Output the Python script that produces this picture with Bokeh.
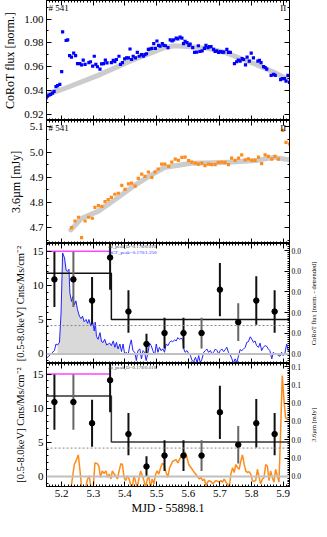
from bokeh.plotting import figure
from bokeh.models import (Range1d, LinearAxis, Label, Span, SingleIntervalTicker,
                          PrintfTickFormatter, CustomJSTickFormatter)
from bokeh.layouts import gridplot
from bokeh.embed import file_html
from bokeh.resources import INLINE

FONT = "Liberation Serif"

# ---------------- data ----------------
# Panel 1: CoRoT flux (normalised)
corot_t = [5.151, 5.155, 5.160, 5.165, 5.171, 5.176, 5.182, 5.187, 5.194, 5.200, 5.203, 5.214, 5.219,
           5.225, 5.231, 5.238, 5.244, 5.250, 5.257, 5.263, 5.268, 5.274, 5.286, 5.291, 5.298, 5.303,
           5.308, 5.313, 5.321, 5.326, 5.332, 5.338, 5.343, 5.357, 5.363, 5.368, 5.373, 5.381, 5.386,
           5.392, 5.399, 5.405, 5.411, 5.416, 5.421, 5.426, 5.433, 5.439, 5.445, 5.452, 5.458, 5.463,
           5.468, 5.474, 5.479, 5.485, 5.491, 5.496, 5.501, 5.506, 5.511, 5.518, 5.523, 5.528, 5.536,
           5.543, 5.549, 5.554, 5.562, 5.567, 5.574, 5.580, 5.585, 5.590, 5.596, 5.602, 5.606, 5.614,
           5.620, 5.627, 5.632, 5.637, 5.644, 5.651, 5.656, 5.662, 5.667, 5.672, 5.680, 5.685, 5.690,
           5.696, 5.701, 5.707, 5.712, 5.722, 5.727, 5.733, 5.746, 5.753, 5.758, 5.764, 5.770, 5.775,
           5.781, 5.786, 5.793, 5.799, 5.806, 5.820, 5.825, 5.830, 5.838, 5.843, 5.848, 5.862, 5.870,
           5.875, 5.892, 5.897, 5.904, 5.909, 5.915, 5.920]
corot_f = [0.9340, 0.9354, 0.9362, 0.9368, 0.9380, 0.9394, 0.9434, 0.9442, 0.9453, 0.9560, 0.9893,
           0.9820, 0.9826, 0.9693, 0.9680, 0.9714, 0.9693, 0.9626, 0.9626, 0.9616, 0.9656, 0.9620,
           0.9634, 0.9642, 0.9605, 0.9688, 0.9620, 0.9600, 0.9580, 0.9624, 0.9626, 0.9656, 0.9632,
           0.9634, 0.9653, 0.9642, 0.9661, 0.9688, 0.9620, 0.9634, 0.9666, 0.9674, 0.9674, 0.9749,
           0.9661, 0.9688, 0.9674, 0.9720, 0.9688, 0.9701, 0.9688, 0.9701, 0.9709, 0.9746, 0.9749,
           0.9754, 0.9794, 0.9754, 0.9816, 0.9780, 0.9773, 0.9794, 0.9780, 0.9776, 0.9760, 0.9826,
           0.9816, 0.9826, 0.9840, 0.9834, 0.9848, 0.9840, 0.9794, 0.9813, 0.9802, 0.9780, 0.9789,
           0.9760, 0.9720, 0.9722, 0.9776, 0.9728, 0.9733, 0.9754, 0.9780, 0.9760, 0.9768, 0.9768,
           0.9746, 0.9728, 0.9733, 0.9720, 0.9728, 0.9722, 0.9722, 0.9746, 0.9720, 0.9720, 0.9626,
           0.9642, 0.9656, 0.9648, 0.9669, 0.9661, 0.9616, 0.9680, 0.9648, 0.9714, 0.9674, 0.9648,
           0.9653, 0.9634, 0.9602, 0.9594, 0.9580, 0.9528, 0.9536, 0.9528, 0.9493, 0.9500, 0.9500,
           0.9480, 0.9528, 0.9469]
corot_trend_t = [5.151, 5.211, 5.315, 5.421, 5.525, 5.557, 5.609, 5.661, 5.714, 5.766, 5.818, 5.871, 5.924]
corot_trend_f = [0.9365, 0.9420, 0.9528, 0.9653, 0.9760, 0.9776, 0.9768, 0.9754, 0.9722, 0.9669, 0.9616,
                 0.9554, 0.9480]

# Panel 2: IRAC 3.6 micron flux [mJy]
irac_t = [5.231, 5.242, 5.253, 5.263, 5.274, 5.285, 5.297, 5.305, 5.316, 5.327, 5.337, 5.347, 5.357,
          5.368, 5.379, 5.390, 5.400, 5.411, 5.421, 5.432, 5.442, 5.453, 5.463, 5.474, 5.485, 5.495,
          5.505, 5.516, 5.526, 5.538, 5.548, 5.559, 5.569, 5.580, 5.590, 5.601, 5.611, 5.622, 5.632,
          5.643, 5.653, 5.664, 5.674, 5.685, 5.695, 5.706, 5.716, 5.727, 5.737, 5.748, 5.759, 5.769,
          5.780, 5.790, 5.801, 5.811, 5.822, 5.832, 5.843, 5.853, 5.864, 5.874, 5.885, 5.899, 5.909,
          5.920]
irac_f = [4.701, 4.727, 4.742, 4.661, 4.727, 4.742, 4.738, 4.781, 4.788, 4.785, 4.804, 4.812, 4.821,
          4.833, 4.837, 4.868, 4.852, 4.874, 4.877, 4.865, 4.896, 4.913, 4.904, 4.921, 4.900, 4.921,
          4.933, 4.952, 4.952, 4.943, 4.960, 4.972, 4.967, 4.979, 4.980, 4.966, 4.960, 4.956, 4.952,
          4.956, 4.946, 4.952, 4.950, 4.950, 4.959, 4.960, 4.959, 4.950, 4.976, 4.967, 4.976, 4.989,
          4.969, 4.973, 4.967, 4.967, 4.980, 4.954, 4.989, 4.983, 4.972, 4.983, 4.972, 5.086, 5.038,
          5.032]
irac_trend_t = [5.229, 5.263, 5.315, 5.368, 5.421, 5.474, 5.525, 5.609, 5.714, 5.818, 5.871, 5.920]
irac_trend_f = [4.692, 4.738, 4.765, 4.811, 4.860, 4.903, 4.939, 4.956, 4.959, 4.967, 4.979, 4.969]

# Panels 3/4: X-ray count rate [0.5-8.0 keV]
xray_t = [5.177, 5.237, 5.296, 5.353, 5.411, 5.468, 5.525, 5.585, 5.642, 5.700, 5.758, 5.815, 5.873]
xray_rate = [10.9, 10.9, 7.8, 14.1, 6.2, 1.45, 3.05, 3.05, 3.05, 9.4, 4.65, 7.8, 6.2]
xray_err = [4.05, 4.05, 3.45, 4.7, 3.1, 1.5, 2.25, 2.25, 2.25, 3.9, 2.75, 3.55, 3.1]
xray_err_color = ["#111111", "#666666", "#111111", "#111111", "#111111", "#111111", "#111111",
                  "#111111", "#666666", "#111111", "#666666", "#111111", "#111111"]
block_t = [5.152, 5.357, 5.357, 5.920]
block_rate = [11.8, 11.8, 5.05, 5.05]
peak_t = [5.152, 5.353]
peak_rate = [15.0, 15.0]
mean_rate = 4.15

# Panel 3: detrended CoRoT flux
cdet_t = [5.151, 5.158, 5.169, 5.177, 5.182, 5.187, 5.193, 5.198, 5.203, 5.209, 5.214, 5.218, 5.223,
          5.226, 5.231, 5.235, 5.240, 5.245, 5.250, 5.256, 5.261, 5.266, 5.271, 5.277, 5.282, 5.286,
          5.292, 5.298, 5.303, 5.306, 5.310, 5.315, 5.321, 5.326, 5.331, 5.336, 5.342, 5.347, 5.352,
          5.357, 5.363, 5.368, 5.373, 5.378, 5.384, 5.389, 5.394, 5.399, 5.404, 5.410, 5.415, 5.420,
          5.425, 5.431, 5.436, 5.441, 5.447, 5.452, 5.457, 5.462, 5.467, 5.473, 5.478, 5.483, 5.488,
          5.494, 5.499, 5.504, 5.509, 5.514, 5.520, 5.525, 5.530, 5.536, 5.541, 5.546, 5.551, 5.557,
          5.562, 5.567, 5.572, 5.577, 5.583, 5.586, 5.590, 5.596, 5.602, 5.607, 5.612, 5.617, 5.623,
          5.628, 5.633, 5.638, 5.643, 5.649, 5.654, 5.659, 5.664, 5.670, 5.675, 5.680, 5.686, 5.691,
          5.696, 5.701, 5.706, 5.712, 5.717, 5.722, 5.727, 5.733, 5.738, 5.743, 5.748, 5.754, 5.759,
          5.764, 5.769, 5.775, 5.780, 5.785, 5.790, 5.796, 5.801, 5.806, 5.811, 5.816, 5.822, 5.827,
          5.832, 5.837, 5.843, 5.848, 5.853, 5.858, 5.864, 5.869, 5.874, 5.879, 5.885, 5.890, 5.895,
          5.900, 5.905, 5.911, 5.916, 5.921]
cdet_f = [-0.0021, -0.0013, 0.0005, 0.0016, 0.0048, 0.0043, 0.0056, 0.0198, 0.0489, 0.0465, 0.0405,
          0.0400, 0.0410, 0.0294, 0.0254, 0.0278, 0.0238, 0.0257, 0.0214, 0.0183, 0.0171, 0.0183,
          0.0156, 0.0167, 0.0148, 0.0167, 0.0135, 0.0154, 0.0111, 0.0154, 0.0084, 0.0071, 0.0103,
          0.0059, 0.0056, 0.0071, 0.0043, 0.0048, 0.0052, 0.0040, 0.0063, 0.0032, 0.0056, 0.0024,
          0.0048, 0.0011, 0.0048, 0.0000, 0.0008, -0.0005, 0.0040, 0.0068, 0.0016, 0.0008, -0.0032,
          0.0016, 0.0024, -0.0024, 0.0016, 0.0008, -0.0032, 0.0008, 0.0052, 0.0040, 0.0016, -0.0005,
          0.0048, 0.0008, 0.0032, 0.0016, 0.0024, 0.0008, 0.0048, 0.0040, 0.0056, 0.0063, 0.0059,
          0.0068, 0.0063, 0.0079, 0.0071, 0.0075, 0.0071, 0.0024, 0.0008, 0.0016, 0.0000, -0.0008,
          -0.0032, -0.0037, -0.0016, -0.0043, -0.0008, -0.0043, -0.0027, 0.0008, 0.0016, 0.0024,
          0.0008, 0.0016, 0.0000, 0.0008, 0.0024, 0.0016, 0.0000, 0.0016, 0.0024, 0.0011, 0.0021,
          0.0032, 0.0008, -0.0005, -0.0024, -0.0044, -0.0024, -0.0040, -0.0008, 0.0021, 0.0016,
          0.0024, 0.0032, 0.0056, 0.0059, 0.0083, 0.0071, 0.0056, 0.0063, 0.0040, 0.0032, 0.0052,
          0.0016, 0.0032, 0.0040, 0.0037, 0.0024, 0.0016, -0.0024, 0.0008, 0.0000, 0.0000, -0.0008,
          -0.0011, 0.0008, -0.0008, 0.0000, 0.0048, 0.0016, 0.0024]

# Panel 4: detrended IRAC flux [mJy]
idet_t = [5.2296, 5.240, 5.245, 5.2525, 5.259, 5.263, 5.2755, 5.282, 5.287, 5.2925, 5.300, 5.305,
          5.312, 5.3176, 5.3227, 5.328, 5.334, 5.340, 5.345, 5.350, 5.3555, 5.360, 5.3657, 5.371,
          5.376, 5.3815, 5.387, 5.392, 5.397, 5.4025, 5.4075, 5.413, 5.418, 5.423, 5.4286, 5.434,
          5.439, 5.444, 5.4497, 5.4547, 5.460, 5.4654, 5.4705, 5.4758, 5.481, 5.486, 5.4915, 5.497,
          5.502, 5.507, 5.5126, 5.5176, 5.523, 5.530, 5.5355, 5.541, 5.5513, 5.5616, 5.567, 5.5774,
          5.5858, 5.591, 5.5962, 5.6016, 5.6088, 5.6195, 5.6277, 5.635, 5.640, 5.6456, 5.651, 5.656,
          5.6613, 5.6667, 5.6717, 5.677, 5.6824, 5.6874, 5.6928, 5.698, 5.7031, 5.7085, 5.7138,
          5.7189, 5.7242, 5.7296, 5.7346, 5.740, 5.7453, 5.7503, 5.7557, 5.761, 5.766, 5.7714,
          5.7768, 5.7818, 5.7871, 5.7925, 5.7975, 5.8028, 5.8082, 5.8132, 5.8186, 5.8239, 5.8289,
          5.8343, 5.8396, 5.8447, 5.850, 5.8553, 5.8604, 5.8657, 5.871, 5.8761, 5.8814, 5.8868,
          5.8918, 5.8972, 5.9025, 5.9075, 5.9129, 5.9214]
idet_f = [-0.0123, 0.0131, 0.0166, 0.0236, 0.0025, -0.0123, -0.0123, -0.0028, 0.0007, -0.0123,
          -0.0123, 0.0148, 0.0141, 0.0113, -0.0011, 0.0060, 0.0032, 0.0060, -0.0011, 0.0025, -0.0028,
          0.0060, 0.0025, 0.0007, -0.0028, 0.0060, 0.0138, 0.0130, -0.0011, -0.0046, 0.0007, -0.0028,
          -0.0088, -0.0123, 0.0007, -0.0063, -0.0123, -0.0028, 0.0060, 0.0007, -0.0046, -0.0123,
          -0.0028, -0.0011, -0.0123, -0.0028, -0.0081, 0.0025, 0.0060, 0.0025, 0.0095, 0.0141, 0.0130,
          0.0042, -0.0011, 0.0095, 0.0166, 0.0183, 0.0148, 0.0219, 0.0254, 0.0265, 0.0201, 0.0130,
          0.0095, 0.0042, 0.0007, -0.0028, -0.0011, -0.0046, -0.0028, -0.0099, -0.0063, -0.0046,
          -0.0056, -0.0081, -0.0063, -0.0046, -0.0053, -0.0063, -0.0046, -0.0063, -0.0028, -0.0063,
          -0.0081, -0.0123, 0.0025, 0.0095, 0.0042, 0.0130, 0.0095, 0.0078, 0.0166, 0.0236, 0.0130,
          0.0060, 0.0042, 0.0053, 0.0025, -0.0046, -0.0053, -0.0046, 0.0078, -0.0011, -0.0081,
          -0.0028, -0.0011, 0.0130, 0.0113, -0.0046, 0.0060, -0.0011, -0.0063, 0.0078, 0.0007,
          -0.0063, 0.0483, 0.1100, 0.0836, 0.0642, 0.0624, 0.0617]

# ---------------- styling helpers ----------------
X0, X1 = 5.152, 5.920
xr = Range1d(X0, X1)
FW = 243
BL = 40
BR = 17        # right border of every panel (tick labels only)
STRIP_W = 11   # thin strip that carries the right-hand axis titles


def blank_formatter():
    return CustomJSTickFormatter(code="return '';")


def style_axis(ax, show_labels, fs="11px", fmt=None):
    ax.major_tick_in = 5
    ax.major_tick_out = 0
    ax.minor_tick_in = 2
    ax.minor_tick_out = 0
    ax.axis_line_color = "black"
    ax.major_tick_line_color = "black"
    ax.minor_tick_line_color = "black"
    ax.major_label_text_font = FONT
    ax.major_label_text_font_size = fs
    ax.major_label_text_color = "black"
    ax.axis_label_text_font = FONT
    ax.axis_label_text_font_style = "normal"
    ax.axis_label_text_color = "black"
    if not show_labels:
        ax.formatter = blank_formatter()
        ax.major_label_standoff = 0
        ax.axis_label = None
    else:
        ax.major_label_standoff = 3
        if fmt is not None:
            ax.formatter = PrintfTickFormatter(format=fmt)


def make_panel(fh, yr, yint, yminor, yfmt, ylabel, ylabel_fs="12px", bottom_labels=False):
    p = figure(frame_width=FW, frame_height=fh, x_range=xr, y_range=yr,
               output_backend="svg", toolbar_location=None,
               x_axis_location=None, y_axis_location=None,
               min_border_left=BL, min_border_right=BR, min_border_top=0, min_border_bottom=0)
    p.grid.visible = False
    p.outline_line_color = "black"
    p.background_fill_color = "white"
    p.border_fill_color = "white"
    bx = LinearAxis(ticker=SingleIntervalTicker(interval=0.1, num_minor_ticks=10))
    style_axis(bx, bottom_labels, fmt="%.1f")
    if bottom_labels:
        bx.axis_label = "MJD - 55898.1"
        bx.axis_label_text_font_size = "12px"
        bx.axis_label_standoff = 1
        bx.major_label_standoff = 3
    p.add_layout(bx, "below")
    tx = LinearAxis(ticker=SingleIntervalTicker(interval=0.1, num_minor_ticks=10))
    style_axis(tx, False)
    p.add_layout(tx, "above")
    ly = LinearAxis(ticker=SingleIntervalTicker(interval=yint, num_minor_ticks=yminor))
    style_axis(ly, True, fmt=yfmt)
    ly.axis_label = ylabel
    ly.axis_label_text_font_size = ylabel_fs
    ly.axis_label_standoff = 4
    p.add_layout(ly, "left")
    return p


def add_plain_right(p, yint, yminor):
    ry = LinearAxis(ticker=SingleIntervalTicker(interval=yint, num_minor_ticks=yminor))
    style_axis(ry, False)
    p.add_layout(ry, "right")


def add_ticks_right(p, rname, yint):
    ry = LinearAxis(y_range_name=rname,
                    ticker=SingleIntervalTicker(interval=yint, num_minor_ticks=10))
    style_axis(ry, True, fs="7.5px", fmt="%.2f")
    ry.major_label_standoff = 2
    ry.axis_label = None
    p.add_layout(ry, "right")


def title_strip(fh, yr, text):
    # narrow figure whose (left) axis title acts as the right-hand axis label
    s = figure(frame_width=1, frame_height=fh, y_range=yr, x_range=Range1d(0, 1),
               output_backend="svg", toolbar_location=None,
               x_axis_location=None, y_axis_location=None,
               min_border_left=STRIP_W - 1, min_border_right=0, min_border_top=0, min_border_bottom=0)
    s.grid.visible = False
    s.outline_line_color = None
    s.background_fill_color = "white"
    s.border_fill_color = "white"
    ax = LinearAxis(formatter=blank_formatter())
    ax.major_tick_in = 0
    ax.major_tick_out = 0
    ax.minor_tick_in = 0
    ax.minor_tick_out = 0
    ax.axis_line_color = None
    ax.major_label_standoff = 0
    ax.axis_label = text
    ax.axis_label_standoff = 0
    ax.axis_label_text_font = FONT
    ax.axis_label_text_font_style = "normal"
    ax.axis_label_text_font_size = "6.5px"
    ax.axis_label_text_color = "black"
    s.add_layout(ax, "left")
    return s


def add_tag(p, ytop):
    p.add_layout(Label(x=5.158, y=ytop, text="# 541", text_font=FONT, text_font_size="9px",
                       text_baseline="top", text_color="black"))
    p.add_layout(Label(x=5.910, y=ytop, text="II", text_font=FONT, text_font_size="9px",
                       text_baseline="top", text_align="right", text_color="black"))


# ---------------- panel 1 ----------------
p1 = make_panel(120, Range1d(0.9150, 1.0155), 0.02, 2, "%.2f", "CoRoT flux [norm.]")
add_plain_right(p1, 0.02, 2)
p1.line(corot_trend_t, corot_trend_f, line_color="#cccccc", line_width=5, line_cap="round")
p1.scatter(corot_t, corot_f, marker="square", size=3.2, fill_color="#0000ff", line_color=None)
add_tag(p1, 1.013)

# ---------------- panel 2 ----------------
p2 = make_panel(123, Range1d(4.638, 5.125), 0.1, 2, "%.1f", "3.6µm [mJy]")
add_plain_right(p2, 0.1, 2)
p2.line(irac_trend_t, irac_trend_f, line_color="#cccccc", line_width=5, line_cap="round")
p2.scatter(irac_t, irac_f, marker="square", size=3.2, fill_color="#ff8c1a", line_color=None)
add_tag(p2, 5.114)

# ---------------- panel 3 ----------------
C3 = 0.05 / 15.1
y3 = (-1.4, 16.15)
p3 = make_panel(120, Range1d(*y3), 5, 5, "%d", "[0.5-8.0keV] Cnts/Ms/cm⁻²", ylabel_fs="10.5px")
p3.extra_y_ranges = {"corot": Range1d(y3[0] * C3, y3[1] * C3)}
add_ticks_right(p3, "corot", 0.01)
fill_t = [t for t in cdet_t if 5.186 <= t <= 5.385]
fill_f = [max(f, 0.0) for t, f in zip(cdet_t, cdet_f) if 5.186 <= t <= 5.385]
p3.varea(x=fill_t, y1=[0.0] * len(fill_t), y2=fill_f, fill_color="#d9d9d9", y_range_name="corot")
p3.add_layout(Span(location=0, dimension="width", line_color="#c0c0c0", line_width=2))
p3.add_layout(Span(location=mean_rate, dimension="width", line_color="#888888", line_width=1,
                   line_dash="2 2"))
p3.line(cdet_t, cdet_f, line_color="#2222ff", line_width=1, y_range_name="corot")
p3.line(peak_t, peak_rate, line_color="#ff44ff", line_width=1.5)
p3.line(block_t, block_rate, line_color="#111111", line_width=1.5)
p3.segment(x0=xray_t, y0=[r - e for r, e in zip(xray_rate, xray_err)],
           x1=xray_t, y1=[r + e for r, e in zip(xray_rate, xray_err)],
           line_color=xray_err_color, line_width=2)
p3.scatter(xray_t, xray_rate, size=5.5, color="black")
p3.add_layout(Label(x=5.347, y=16.1, text="Δt_peak,D=0.178/0.010", text_font=FONT,
                    text_font_size="5px", text_baseline="top", text_color="#444444"))
p3.add_layout(Label(x=5.347, y=15.25, text="DCF_peak=0.170/1.250", text_font=FONT,
                    text_font_size="5px", text_baseline="top", text_color="#3333ff"))
s3 = title_strip(120, Range1d(*y3), "CoRoT flux [norm. - detrended]")

# ---------------- panel 4 ----------------
y4 = (-1.48, 16.55)
C4 = 0.00745
p4 = make_panel(123, Range1d(*y4), 5, 5, "%d", "[0.5-8.0keV] Cnts/Ms/cm⁻²", ylabel_fs="10.5px",
                bottom_labels=True)
p4.extra_y_ranges = {"irac": Range1d(y4[0] * C4, y4[1] * C4)}
add_ticks_right(p4, "irac", 0.02)
p4.add_layout(Span(location=0, dimension="width", line_color="#c0c0c0", line_width=2))
p4.add_layout(Span(location=mean_rate, dimension="width", line_color="#888888", line_width=1,
                   line_dash="2 2"))
p4.line(idet_t, idet_f, line_color="#ff8c1a", line_width=1.5, y_range_name="irac")
p4.line(peak_t, peak_rate, line_color="#ff44ff", line_width=1.5)
p4.line(block_t, block_rate, line_color="#333333", line_width=1.5)
p4.segment(x0=xray_t, y0=[r - e for r, e in zip(xray_rate, xray_err)],
           x1=xray_t, y1=[r + e for r, e in zip(xray_rate, xray_err)],
           line_color=xray_err_color, line_width=2)
p4.scatter(xray_t, xray_rate, size=5.5, color="black")
p4.add_layout(Label(x=5.347, y=16.3, text="Δt_peak,D=0.178/0.010", text_font=FONT,
                    text_font_size="5px", text_baseline="top", text_color="#444444"))
s4 = title_strip(123, Range1d(*y4), "3.6µm [mJy]")

layout = gridplot([[p1, None], [p2, None], [p3, s3], [p4, s4]], toolbar_location=None)
open("out.html", "w").write(file_html(layout, INLINE))
